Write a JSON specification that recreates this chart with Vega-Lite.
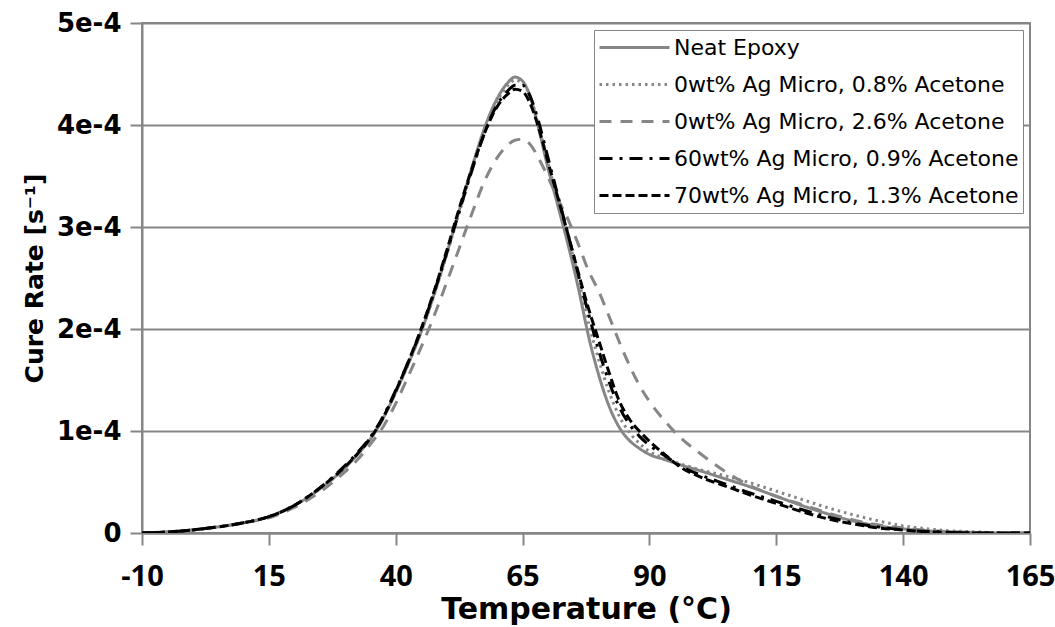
{
  "$schema": "https://vega.github.io/schema/vega-lite/v6.json",
  "width": 888,
  "height": 510,
  "autosize": {"type": "none"},
  "padding": {"left": 142, "top": 23, "right": 25, "bottom": 94},
  "background": "white",
  "config": {
    "view": {"stroke": "#868686", "strokeWidth": 2},
    "font": "DejaVu Sans"
  },
  "datasets": {
    "names": [
      {"key": "a", "series": "Neat Epoxy"},
      {"key": "b", "series": "0wt% Ag Micro, 0.8% Acetone"},
      {"key": "c", "series": "0wt% Ag Micro, 2.6% Acetone"},
      {"key": "d", "series": "60wt% Ag Micro, 0.9% Acetone"},
      {"key": "e", "series": "70wt% Ag Micro, 1.3% Acetone"}
    ]
  },
  "data": {
    "values": [
      {"T": -10, "a": 0, "b": 0, "c": 0, "d": 0, "e": 0},
      {"T": -5, "a": 1e-6, "b": 1e-6, "c": 1e-6, "d": 1e-6, "e": 1e-6},
      {"T": 0, "a": 3e-6, "b": 3e-6, "c": 3e-6, "d": 3e-6, "e": 3e-6},
      {"T": 5, "a": 6e-6, "b": 6e-6, "c": 6e-6, "d": 6e-6, "e": 6e-6},
      {"T": 10, "a": 10e-6, "b": 10e-6, "c": 10e-6, "d": 10e-6, "e": 10e-6},
      {"T": 15, "a": 16e-6, "b": 16e-6, "c": 15e-6, "d": 16e-6, "e": 16e-6},
      {"T": 20, "a": 27e-6, "b": 27e-6, "c": 25e-6, "d": 27e-6, "e": 27e-6},
      {"T": 25, "a": 43e-6, "b": 43e-6, "c": 40e-6, "d": 44e-6, "e": 44e-6},
      {"T": 30, "a": 64e-6, "b": 64e-6, "c": 60e-6, "d": 66e-6, "e": 65e-6},
      {"T": 32.5, "a": 77e-6, "b": 78e-6, "c": 72e-6, "d": 79e-6, "e": 78e-6},
      {"T": 35, "a": 92e-6, "b": 93e-6, "c": 87e-6, "d": 94e-6, "e": 93e-6},
      {"T": 37.5, "a": 112e-6, "b": 113e-6, "c": 104e-6, "d": 114e-6, "e": 113e-6},
      {"T": 40, "a": 138e-6, "b": 138e-6, "c": 127e-6, "d": 140e-6, "e": 139e-6},
      {"T": 42.5, "a": 166e-6, "b": 166e-6, "c": 154e-6, "d": 168e-6, "e": 168e-6},
      {"T": 45, "a": 197e-6, "b": 197e-6, "c": 182e-6, "d": 199e-6, "e": 200e-6},
      {"T": 47.5, "a": 233e-6, "b": 232e-6, "c": 212e-6, "d": 235e-6, "e": 236e-6},
      {"T": 50, "a": 273e-6, "b": 272e-6, "c": 245e-6, "d": 274e-6, "e": 276e-6},
      {"T": 52.5, "a": 316e-6, "b": 314e-6, "c": 279e-6, "d": 315e-6, "e": 318e-6},
      {"T": 55, "a": 358e-6, "b": 355e-6, "c": 313e-6, "d": 355e-6, "e": 357e-6},
      {"T": 57.5, "a": 397e-6, "b": 393e-6, "c": 345e-6, "d": 392e-6, "e": 392e-6},
      {"T": 60, "a": 426e-6, "b": 423e-6, "c": 368e-6, "d": 420e-6, "e": 418e-6},
      {"T": 62, "a": 441e-6, "b": 438e-6, "c": 380e-6, "d": 433e-6, "e": 430e-6},
      {"T": 63.5, "a": 447e-6, "b": 444e-6, "c": 385e-6, "d": 439e-6, "e": 435e-6},
      {"T": 65, "a": 443e-6, "b": 441e-6, "c": 386e-6, "d": 439e-6, "e": 433e-6},
      {"T": 66.5, "a": 428e-6, "b": 428e-6, "c": 381e-6, "d": 428e-6, "e": 421e-6},
      {"T": 68, "a": 400e-6, "b": 403e-6, "c": 369e-6, "d": 406e-6, "e": 400e-6},
      {"T": 70, "a": 358e-6, "b": 363e-6, "c": 349e-6, "d": 368e-6, "e": 364e-6},
      {"T": 72, "a": 320e-6, "b": 326e-6, "c": 327e-6, "d": 330e-6, "e": 328e-6},
      {"T": 74, "a": 282e-6, "b": 290e-6, "c": 307e-6, "d": 292e-6, "e": 292e-6},
      {"T": 76, "a": 240e-6, "b": 250e-6, "c": 283e-6, "d": 253e-6, "e": 255e-6},
      {"T": 78, "a": 193e-6, "b": 206e-6, "c": 257e-6, "d": 215e-6, "e": 220e-6},
      {"T": 80, "a": 155e-6, "b": 170e-6, "c": 237e-6, "d": 179e-6, "e": 189e-6},
      {"T": 82, "a": 125e-6, "b": 139e-6, "c": 213e-6, "d": 149e-6, "e": 158e-6},
      {"T": 84, "a": 104e-6, "b": 115e-6, "c": 188e-6, "d": 124e-6, "e": 130e-6},
      {"T": 86, "a": 91e-6, "b": 99e-6, "c": 165e-6, "d": 107e-6, "e": 112e-6},
      {"T": 88, "a": 83e-6, "b": 88e-6, "c": 145e-6, "d": 95e-6, "e": 100e-6},
      {"T": 90, "a": 77e-6, "b": 80e-6, "c": 129e-6, "d": 86e-6, "e": 90e-6},
      {"T": 93, "a": 72e-6, "b": 73e-6, "c": 110e-6, "d": 76e-6, "e": 77e-6},
      {"T": 96, "a": 67e-6, "b": 68e-6, "c": 94e-6, "d": 66e-6, "e": 65e-6},
      {"T": 100, "a": 61e-6, "b": 62e-6, "c": 78e-6, "d": 57e-6, "e": 55e-6},
      {"T": 105, "a": 53e-6, "b": 56e-6, "c": 60e-6, "d": 48e-6, "e": 46e-6},
      {"T": 110, "a": 45e-6, "b": 49e-6, "c": 46e-6, "d": 39e-6, "e": 37e-6},
      {"T": 115, "a": 36e-6, "b": 41e-6, "c": 36e-6, "d": 31e-6, "e": 29e-6},
      {"T": 120, "a": 27e-6, "b": 33e-6, "c": 28e-6, "d": 23e-6, "e": 21e-6},
      {"T": 125, "a": 19e-6, "b": 25e-6, "c": 20e-6, "d": 16e-6, "e": 14e-6},
      {"T": 130, "a": 12e-6, "b": 18e-6, "c": 13e-6, "d": 10e-6, "e": 9e-6},
      {"T": 135, "a": 7e-6, "b": 12e-6, "c": 8e-6, "d": 6e-6, "e": 5e-6},
      {"T": 140, "a": 4e-6, "b": 7e-6, "c": 5e-6, "d": 3e-6, "e": 3e-6},
      {"T": 145, "a": 2e-6, "b": 4e-6, "c": 2.5e-6, "d": 1.5e-6, "e": 1e-6},
      {"T": 150, "a": 1e-6, "b": 2e-6, "c": 1e-6, "d": 0.5e-6, "e": 0.5e-6},
      {"T": 155, "a": 0.5e-6, "b": 1e-6, "c": 0.5e-6, "d": 0, "e": 0},
      {"T": 160, "a": 0, "b": 0, "c": 0, "d": 0, "e": 0},
      {"T": 165, "a": 0, "b": 0, "c": 0, "d": 0, "e": 0}
    ]
  },
  "transform": [
    {"fold": ["a", "b", "c", "d", "e"], "as": ["key", "rate"]},
    {"lookup": "key", "from": {"data": {"name": "names"}, "key": "key", "fields": ["series"]}}
  ],
  "mark": {"type": "line", "strokeWidth": 3, "interpolate": "monotone", "strokeCap": "butt", "clip": true},
  "encoding": {
    "x": {
      "field": "T",
      "type": "quantitative",
      "scale": {"domain": [-10, 165], "nice": false},
      "axis": {
        "values": [-10, 15, 40, 65, 90, 115, 140, 165],
        "labelExpr": "'' + datum.value",
        "title": "Temperature (°C)",
        "titleFont": "DejaVu Sans",
        "titleFontSize": 30,
        "titleFontWeight": "bold",
        "titleColor": "black",
        "titlePadding": 3,
        "labelFont": "Open Sans",
        "labelFontSize": 29,
        "labelFontWeight": "bold",
        "labelColor": "black",
        "labelPadding": 17,
        "labelFlush": false,
        "labelOverlap": false,
        "grid": false,
        "domainColor": "#868686",
        "domainWidth": 2,
        "tickColor": "#868686",
        "tickWidth": 2,
        "tickSize": 12
      }
    },
    "y": {
      "field": "rate",
      "type": "quantitative",
      "scale": {"domain": [0, 0.0005], "nice": false},
      "axis": {
        "values": [0, 0.0001, 0.0002, 0.0003, 0.0004, 0.0005],
        "labelExpr": "datum.value == 0 ? '0' : format(datum.value, '.0e')",
        "title": "Cure Rate [s⁻¹]",
        "titleFont": "DejaVu Sans",
        "titleFontSize": 25,
        "titleFontWeight": "bold",
        "titleColor": "black",
        "titlePadding": 9,
        "labelFont": "DejaVu Sans",
        "labelFontSize": 26,
        "labelFontWeight": "bold",
        "labelColor": "black",
        "labelPadding": 9,
        "grid": true,
        "gridColor": "#868686",
        "gridWidth": 2,
        "domainColor": "#868686",
        "domainWidth": 2,
        "tickColor": "#868686",
        "tickWidth": 2,
        "tickSize": 12
      }
    },
    "color": {
      "field": "series",
      "type": "nominal",
      "scale": {
        "domain": ["Neat Epoxy", "0wt% Ag Micro, 0.8% Acetone", "0wt% Ag Micro, 2.6% Acetone", "60wt% Ag Micro, 0.9% Acetone", "70wt% Ag Micro, 1.3% Acetone"],
        "range": ["#868686", "#868686", "#868686", "#000000", "#000000"]
      },
      "legend": {
        "title": null,
        "orient": "top-right",
        "offset": 7,
        "padding": 4,
        "strokeColor": "#868686",
        "fillColor": "white",
        "symbolType": "stroke",
        "symbolSize": 4900,
        "symbolStrokeWidth": 3,
        "clipHeight": 27,
        "labelFont": "DejaVu Sans",
        "labelFontSize": 22,
        "labelColor": "black",
        "labelLimit": 400,
        "labelOffset": 3,
        "rowPadding": 10
      }
    },
    "strokeDash": {
      "field": "series",
      "type": "nominal",
      "scale": {
        "domain": ["Neat Epoxy", "0wt% Ag Micro, 0.8% Acetone", "0wt% Ag Micro, 2.6% Acetone", "60wt% Ag Micro, 0.9% Acetone", "70wt% Ag Micro, 1.3% Acetone"],
        "range": [[1, 0], [2.5, 4], [12, 9], [13, 7, 3, 7], [9, 4]]
      },
      "legend": {
        "title": null,
        "orient": "top-right",
        "offset": 7,
        "padding": 4,
        "strokeColor": "#868686",
        "fillColor": "white",
        "symbolType": "stroke",
        "symbolSize": 4900,
        "symbolStrokeWidth": 3,
        "clipHeight": 27,
        "labelFont": "DejaVu Sans",
        "labelFontSize": 22,
        "labelColor": "black",
        "labelLimit": 400,
        "labelOffset": 3,
        "rowPadding": 10
      }
    }
  }
}
